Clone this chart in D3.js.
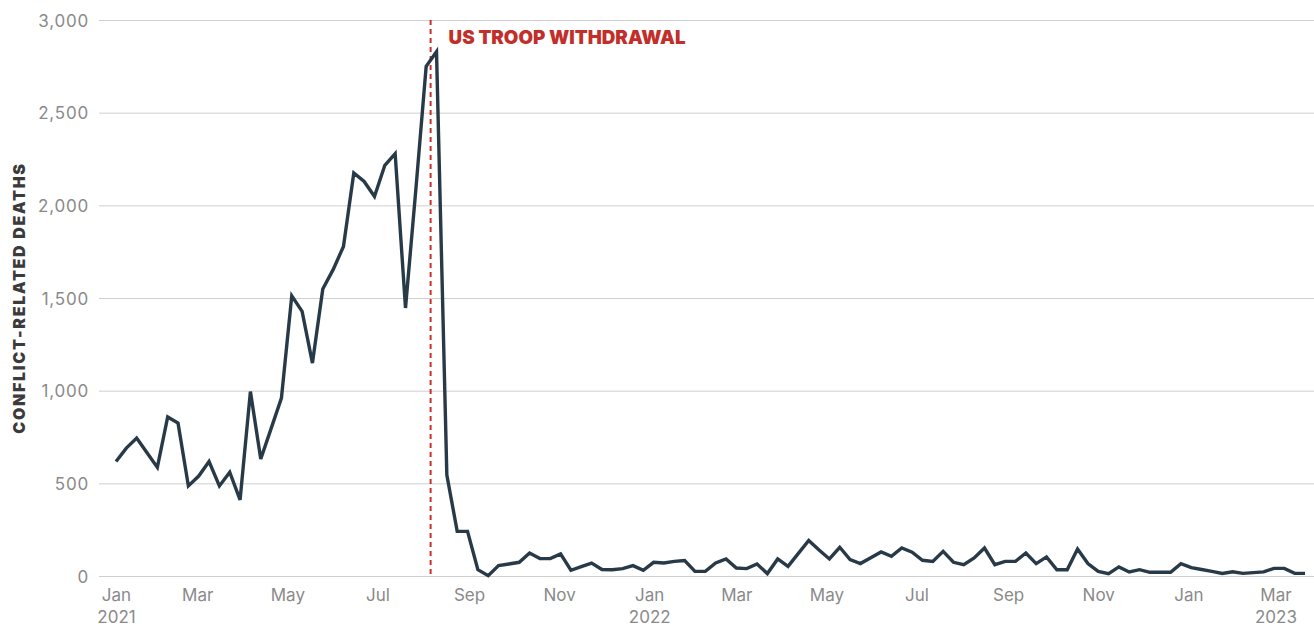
<!DOCTYPE html>
<html><head><meta charset="utf-8">
<script src="https://cdn.jsdelivr.net/npm/d3@7"></script>
<style>
body{margin:0;background:#fff}
svg{display:block}
</style>
</head><body>
<svg id="chart" width="1314" height="626"></svg>
<script>
// ---- data (weekly conflict-related deaths) ----
const firstWeek = "2021-01-05";
const deaths = [
  618, 690, 744, 665, 586, 858, 825, 486, 539, 618,
  486, 560, 411, 995, 631, 795, 960, 1512, 1428, 1149,
  1549, 1653, 1778, 2175, 2129, 2048, 2216, 2279, 1446, 2085,
  2750, 2829, 545, 241, 241, 34, 2, 56, 65, 74,
  124, 94, 94, 119, 31, 50, 70, 35, 34, 40,
  56, 31, 74, 70, 79, 83, 25, 25, 70, 92,
  43, 40, 65, 13, 92, 52, 122, 192, 140, 92,
  155, 88, 67, 99, 130, 106, 151, 128, 85, 79,
  133, 74, 61, 97, 151, 61, 79, 79, 124, 67,
  103, 34, 34, 146, 67, 25, 13, 49, 22, 34,
  20, 20, 20, 67, 45, 35, 25, 14, 23, 14,
  18, 22, 41, 41, 14, 14
];
const yTicks = [0, 500, 1000, 1500, 2000, 2500, 3000];
const tickDates = ["2021-01-01","2021-03-01","2021-05-01","2021-07-01","2021-09-01","2021-11-01",
                   "2022-01-01","2022-03-01","2022-05-01","2022-07-01","2022-09-01","2022-11-01",
                   "2023-01-01","2023-03-01"];
const tickMonths = ["Jan","Mar","May","Jul","Sep","Nov","Jan","Mar","May","Jul","Sep","Nov","Jan","Mar"];
const tickYears  = ["2021","","","","","","2022","","","","","","","2023"];
const eventDate = "2021-08-06";
const eventLabel = "US TROOP WITHDRAWAL";
const yTitle = "CONFLICT-RELATED DEATHS";

// ---- build ----
const parse = d3.utcParse("%Y-%m-%d");
const start = parse(firstWeek);
const data = deaths.map((v, i) => ({date: d3.utcDay.offset(start, 7 * i), value: v}));

const svg = d3.select("#chart");
const x = d3.scaleUtc()
  .domain([data[0].date, data[data.length - 1].date])
  .range([116, 1305]);
const y = d3.scaleLinear().domain([0, 3000]).range([576, 20]);

const tickFont = "Inter, 'Noto Sans', sans-serif";

// y grid + labels
const yAxis = svg.append("g")
  .attr("transform", "translate(99,0)")
  .call(d3.axisLeft(y).tickValues(yTicks).tickSize(-(1314 - 99)).tickPadding(10)
        .tickFormat(d3.format(",")));
yAxis.select(".domain").remove();
yAxis.selectAll(".tick line").attr("stroke", "#cfcfcf").attr("stroke-width", 1);
yAxis.selectAll(".tick text")
  .attr("fill", "#8a8a8a")
  .style("font-family", tickFont)
  .style("font-size", "17px")
  .style("letter-spacing", "0.8px")
  .attr("dy", "0.36em");

// x axis labels
const tDates = tickDates.map(d => {
  const t = parse(d);
  return t < x.domain()[0] ? x.domain()[0] : t;
});
const xAxis = svg.append("g")
  .attr("transform", "translate(0,576)")
  .call(d3.axisBottom(x).tickValues(tDates).tickSize(0).tickPadding(0)
        .tickFormat((d, i) => tickMonths[i]));
xAxis.select(".domain").remove();
xAxis.selectAll(".tick text")
  .attr("fill", "#8a8a8a")
  .style("font-family", tickFont)
  .style("font-size", "17px")
  .attr("dy", null)
  .attr("y", 25)
  .each(function(d, i) {
    if (tickYears[i]) {
      d3.select(this).append("tspan")
        .attr("x", 0).attr("dy", 22).text(tickYears[i]);
    }
  });

// y title
svg.append("text")
  .attr("transform", `translate(25,${y(1500)}) rotate(-90)`)
  .attr("text-anchor", "middle")
  .attr("fill", "#3b3b3b")
  .style("font-family", "Inter, 'Noto Sans', sans-serif")
  .style("font-weight", 900)
  .style("font-size", "16px")
  .style("letter-spacing", "1.7px")
  .text(yTitle);

// event line
const ex = x(parse(eventDate));
svg.append("line")
  .attr("x1", ex).attr("x2", ex)
  .attr("y1", y(3000)).attr("y2", y(0))
  .attr("stroke", "#c9302c").attr("stroke-width", 2)
  .attr("stroke-dasharray", "5,4");
svg.append("text")
  .attr("x", ex + 18).attr("y", 44)
  .attr("fill", "#c22f2a")
  .style("font-family", "Inter, 'Noto Sans', sans-serif")
  .style("font-weight", 900)
  .style("font-size", "18.8px")
  .text(eventLabel);

// line
const line = d3.line().x(d => x(d.date)).y(d => y(d.value));
svg.append("path")
  .datum(data)
  .attr("fill", "none")
  .attr("stroke", "#283a48")
  .attr("stroke-width", 3.4)
  .attr("stroke-linejoin", "miter")
  .attr("stroke-miterlimit", 4)
  .attr("d", line);
</script>
</body></html>
